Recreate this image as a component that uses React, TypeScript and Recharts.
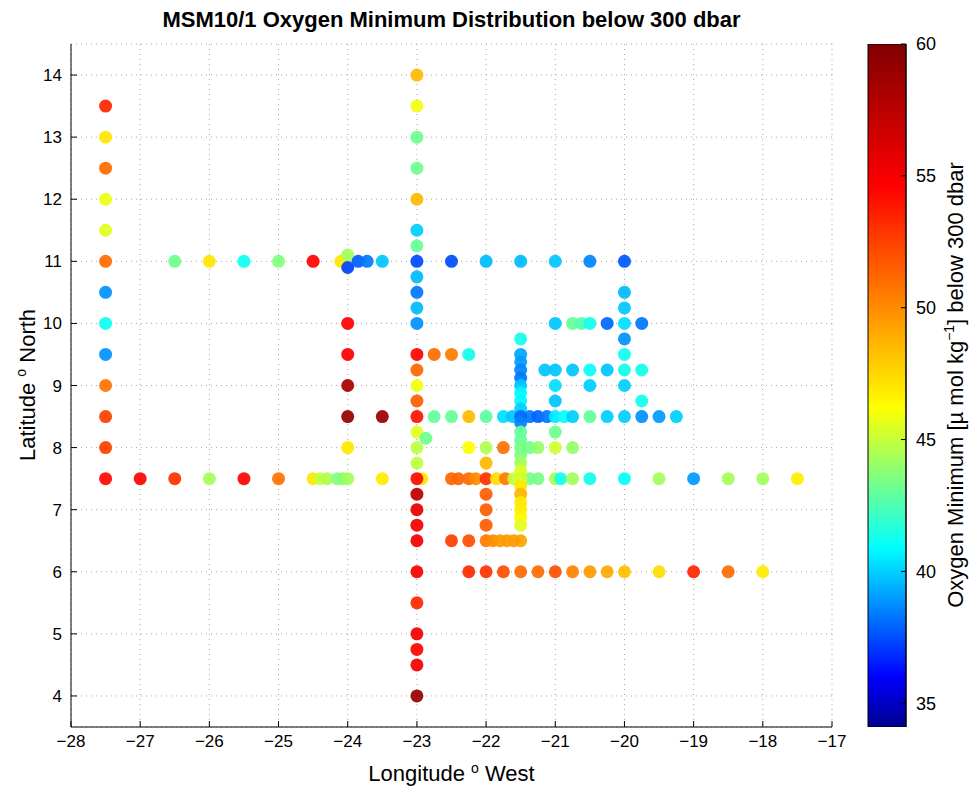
import { ScatterChart, Scatter, XAxis, YAxis, CartesianGrid, BarChart, Bar } from 'recharts'

type Pt = [number, number, number] // lon, lat, oxygen minimum

// station transects: [longitude, latitude, O2 min]
const col275: Pt[] = [
  [-27.5, 13.5, 53.3], [-27.5, 13, 47], [-27.5, 12.5, 51], [-27.5, 12, 45.8], [-27.5, 11.5, 45.6],
  [-27.5, 11, 51], [-27.5, 10.5, 38.8], [-27.5, 10, 41.2], [-27.5, 9.5, 38.8], [-27.5, 9, 50.8],
  [-27.5, 8.5, 52.5], [-27.5, 8, 52.5], [-27.5, 7.5, 54.3],
]
const row11West: Pt[] = [
  [-26.5, 11, 43.2], [-26, 11, 47], [-25.5, 11, 41.2], [-25, 11, 43.6], [-24.5, 11, 54.5],
  [-24.1, 11, 47], [-24, 11.1, 44.3], [-24, 10.9, 37.3], [-23.85, 11, 37.8], [-23.72, 11, 38.3],
  [-23.5, 11, 39.8],
]
const row11East: Pt[] = [
  [-22.5, 11, 37.5], [-22, 11, 39.6], [-21.5, 11, 39.6], [-21, 11, 39.8], [-20.5, 11, 38.6], [-20, 11, 37.7],
]
const col24: Pt[] = [
  [-24, 10, 54.6], [-24, 9.5, 54.6], [-24, 9, 58.3], [-24, 8.5, 59], [-24, 8, 47], [-23.5, 8.5, 58.8],
]
const row75West: Pt[] = [
  [-27, 7.5, 54.5], [-26.5, 7.5, 53], [-26, 7.5, 44.3], [-25.5, 7.5, 54.5], [-25, 7.5, 50.8],
  [-24.5, 7.5, 47], [-24.4, 7.5, 45], [-24.3, 7.5, 44.5], [-24.15, 7.5, 43.6], [-24.07, 7.5, 43.6],
  [-24, 7.5, 44.3], [-23.5, 7.5, 46.8],
]
const col23: Pt[] = [
  [-23, 14, 48.5], [-23, 13.5, 45.9], [-23, 13, 43.2], [-23, 12.5, 43.2], [-23, 12, 48.5],
  [-23, 11.5, 40], [-23, 11.25, 43], [-23, 11, 37.4], [-23, 10.75, 39.6], [-23, 10.5, 38.3],
  [-23, 10.25, 39.6], [-23, 10, 38.8], [-23, 9.5, 54.5], [-23, 9.25, 51.2], [-23, 9, 45.9],
  [-23, 8.75, 51.5], [-23, 8.5, 54], [-23, 8.25, 45.6], [-22.87, 8.15, 43.2], [-23, 8, 44.8],
  [-23, 7.75, 44.8], [-22.93, 7.5, 47], [-23, 7.5, 54.2], [-23, 7.25, 57.5], [-23, 7, 55.5],
  [-23, 6.75, 55], [-23, 6.5, 55], [-23, 6, 54.8], [-23, 5.5, 53.3], [-23, 5, 55],
  [-23, 4.75, 54.5], [-23, 4.5, 55], [-23, 4, 59],
]
const row95: Pt[] = [[-22.75, 9.5, 51], [-22.5, 9.5, 50.5], [-22.25, 9.5, 41.3]]
const row85: Pt[] = [
  [-22.75, 8.5, 43], [-22.5, 8.5, 43], [-22.25, 8.5, 48.5], [-22, 8.5, 42.8], [-21.75, 8.5, 40.3],
  [-21.62, 8.5, 39.8], [-21.37, 8.5, 38.3], [-21.25, 8.5, 37.9], [-21.12, 8.5, 38.3],
  [-21, 8.5, 40.5], [-20.87, 8.5, 41], [-20.75, 8.5, 40], [-20.5, 8.5, 43], [-20.25, 8.5, 40],
  [-20, 8.5, 40], [-19.75, 8.5, 38.8], [-19.5, 8.5, 39], [-19.25, 8.5, 40],
]
const col215North: Pt[] = [
  [-21.5, 9.75, 41.3], [-21.5, 9.5, 39.2], [-21.5, 9.38, 39], [-21.5, 9.25, 38.6], [-21.5, 9.12, 38.3],
  [-21.5, 9, 39.8], [-21.5, 8.88, 40.8], [-21.5, 8.75, 40.8], [-21.5, 8.62, 40], [-21.5, 8.5, 38],
  [-21.5, 8.4, 38.5],
]
const row8: Pt[] = [
  [-22.25, 8, 46.2], [-22, 8, 44.6], [-21.75, 8, 50.8], [-21.37, 8, 43.3], [-21.25, 8, 44],
  [-21, 8, 45.2], [-20.75, 8, 44], [-21, 8.25, 43.2], [-22, 7.75, 48.5],
]
const row75East: Pt[] = [
  [-22.5, 7.5, 51.3], [-22.4, 7.5, 51.3], [-22.25, 7.5, 51], [-22.15, 7.5, 50], [-22, 7.5, 53],
  [-21.85, 7.5, 47.3], [-21.72, 7.5, 50.5], [-21.6, 7.5, 45], [-21.37, 7.5, 43.4], [-21.25, 7.5, 43.4],
  [-21, 7.5, 44.5], [-20.92, 7.5, 41.3], [-20.75, 7.5, 44.3], [-20.5, 7.5, 41.3], [-20, 7.5, 41],
  [-19.5, 7.5, 44.3], [-19, 7.5, 39], [-18.5, 7.5, 44.3], [-18, 7.5, 44.3], [-17.5, 7.5, 46.8],
]
const col215South: Pt[] = [
  [-21.5, 8.25, 43], [-21.5, 8.12, 43], [-21.5, 8, 43.4], [-21.5, 7.88, 43.5], [-21.5, 7.75, 44.3],
  [-21.5, 7.62, 45.5], [-21.5, 7.5, 45.3], [-21.5, 7.38, 47], [-21.5, 7.25, 48.6], [-21.5, 7.12, 47],
  [-21.5, 7, 46.8], [-21.5, 6.88, 46.5], [-21.5, 6.75, 45.6], [-21.5, 6.5, 49.2],
]
const col22: Pt[] = [[-22, 7.25, 51.5], [-22, 7, 51.5], [-22, 6.75, 51.5]]
const row65: Pt[] = [
  [-22.5, 6.5, 52.5], [-22.25, 6.5, 52], [-22, 6.5, 50.5], [-21.9, 6.5, 50], [-21.8, 6.5, 49.6],
  [-21.7, 6.5, 49.5], [-21.6, 6.5, 49.5],
]
const row6: Pt[] = [
  [-22.25, 6, 53.2], [-22, 6, 53], [-21.75, 6, 52], [-21.5, 6, 51], [-21.25, 6, 51], [-21, 6, 52],
  [-20.75, 6, 50.3], [-20.5, 6, 49.5], [-20.25, 6, 49], [-20, 6, 48.3], [-19.5, 6, 47.3],
  [-19, 6, 53.3], [-18.5, 6, 51], [-18, 6, 46.8],
]
const boxNE: Pt[] = [
  [-21, 10, 39.8], [-20.75, 10, 43], [-20.62, 10, 42.6], [-20.5, 10, 41.3], [-20.25, 10, 38],
  [-20, 10, 40.3], [-19.75, 10, 38.3], [-20, 10.5, 39.6], [-20, 10.25, 39.8], [-20, 9.75, 38.8],
  [-20, 9.5, 41.2], [-20, 9.25, 41.3], [-20, 9, 40], [-21.15, 9.25, 39.8], [-21, 9.25, 39.8],
  [-20.75, 9.25, 39.8], [-20.5, 9.25, 41], [-20.25, 9.25, 39.8], [-19.75, 9.25, 41.3],
  [-21, 9, 40.3], [-20.5, 9, 40], [-21, 8.75, 39.8], [-19.75, 8.75, 41.3],
]

const lonTicks = [-28, -27, -26, -25, -24, -23, -22, -21, -20, -19, -18, -17]
const latTicks = [4, 5, 6, 7, 8, 9, 10, 11, 12, 13, 14]
const cbTicks = [35, 40, 45, 50, 55, 60]
const cbRange = [{ name: 'o2', range: [34.1, 60] }]

// jet-like colormap
const cmapValues = [34.1, 36, 40.9, 46.2, 54.6, 60]
const cmapColors = ['#00008f', '#0000ff', '#00ffff', '#ffff00', '#ff0000', '#800000']

const hex = (c: string) => [1, 3, 5].map(i => parseInt(c.slice(i, i + 2), 16))
function jet(v: number) {
  if (v <= cmapValues[0]) return cmapColors[0]
  for (let i = 1; i < cmapValues.length; i++) {
    if (v <= cmapValues[i]) {
      const t = (v - cmapValues[i - 1]) / (cmapValues[i] - cmapValues[i - 1])
      const a = hex(cmapColors[i - 1]), b = hex(cmapColors[i])
      return `rgb(${a.map((x, k) => Math.round(x + (b[k] - x) * t)).join(',')})`
    }
  }
  return cmapColors[cmapColors.length - 1]
}

const points = [
  col275, row11West, row11East, col24, row75West, col23, row95, row85, col215North,
  row8, row75East, col215South, col22, row65, row6, boxNE,
].flat().map(([lon, lat, o2]) => ({ lon, lat, o2 }))

const font = '"Liberation Sans", Arial, Helvetica, sans-serif'
const tickStyle = { fontSize: 17, fill: '#000', fontFamily: font }
const minus = (v: number) => (v < 0 ? `\u2212${-v}` : String(v))

export default function App() {
  const cbLo = cmapValues[0], cbHi = cmapValues[cmapValues.length - 1]
  return (
    <div style={{ position: 'absolute', left: 0, top: 0, width: 971, height: 790, background: '#fff', fontFamily: font }}>
      <div style={{ position: 'absolute', left: 71, width: 761, top: 7, textAlign: 'center', fontSize: 22, fontWeight: 700 }}>
        MSM10/1 Oxygen Minimum Distribution below 300 dbar
      </div>

      <div style={{ position: 'absolute', left: 0, top: 0 }}>
        <ScatterChart width={971} height={790} margin={{ top: 44, right: 139, bottom: 33, left: 21 }}>
          <CartesianGrid stroke="#a8a8a8" strokeDasharray="1 4" horizontal vertical />
          <XAxis dataKey="lon" type="number" domain={[-28, -17]} ticks={lonTicks} interval={0}
            height={30} tickSize={-6} tickMargin={14} tick={tickStyle} stroke="#000"
            tickFormatter={minus} allowDataOverflow />
          <XAxis xAxisId="top" orientation="top" type="number" domain={[-28, -17]} ticks={lonTicks}
            height={0} tickSize={-6} tick={false} stroke="#000" />
          <YAxis dataKey="lat" type="number" domain={[3.5, 14.5]} ticks={latTicks} interval={0}
            width={50} tickSize={-6} tickMargin={15} tick={tickStyle} stroke="#000"
            allowDataOverflow />
          <YAxis yAxisId="right" orientation="right" type="number" domain={[3.5, 14.5]} ticks={latTicks}
            width={0} tickSize={-6} tick={false} stroke="#000" />
          <Scatter data={points} isAnimationActive={false}
            shape={(p: any) => <circle cx={p.cx} cy={p.cy} r={6.5} fill={jet(p.payload.o2)} fillOpacity={0.93} />} />
        </ScatterChart>
      </div>

      <div style={{ position: 'absolute', left: 0, top: 0 }}>
        <BarChart width={971} height={790} data={cbRange} barCategoryGap={0}
          margin={{ top: 44, right: 25, bottom: 63, left: 868 }}>
          <defs>
            <linearGradient id="cbGrad" x1="0" y1="1" x2="0" y2="0">
              {cmapValues.map((v, i) => (
                <stop key={v} offset={(v - cbLo) / (cbHi - cbLo)} stopColor={cmapColors[i]} />
              ))}
            </linearGradient>
          </defs>
          <XAxis dataKey="name" hide />
          <YAxis type="number" domain={[cbLo, cbHi]} ticks={cbTicks} width={0} tickSize={-5}
            tick={false} stroke="#000" allowDataOverflow />
          <YAxis yAxisId="r" orientation="right" type="number" domain={[cbLo, cbHi]} ticks={cbTicks}
            width={40} tickSize={-5} tickMargin={15} stroke="#000" allowDataOverflow
            tick={{ ...tickStyle, fontSize: 18, textAnchor: 'start' }} />
          <Bar dataKey="range" fill="url(#cbGrad)" stroke="#000" strokeWidth={1} isAnimationActive={false} />
        </BarChart>
      </div>

      <div style={{ position: 'absolute', left: 71, width: 761, top: 760, textAlign: 'center', fontSize: 22 }}>
        Longitude <sup style={{ fontSize: 14 }}>o</sup> West
      </div>
      <div style={{
        position: 'absolute', left: 27, top: 385, width: 400, textAlign: 'center', fontSize: 22,
        transform: 'translate(-50%, -50%) rotate(-90deg)', whiteSpace: 'nowrap',
      }}>
        Latitude <sup style={{ fontSize: 14 }}>o</sup> North
      </div>
      <div style={{
        position: 'absolute', left: 955, top: 385, width: 600, textAlign: 'center', fontSize: 22,
        transform: 'translate(-50%, -50%) rotate(-90deg)', whiteSpace: 'nowrap',
      }}>
        Oxygen Minimum [µ mol kg<sup style={{ fontSize: 14 }}>−1</sup>] below 300 dbar
      </div>
    </div>
  )
}
